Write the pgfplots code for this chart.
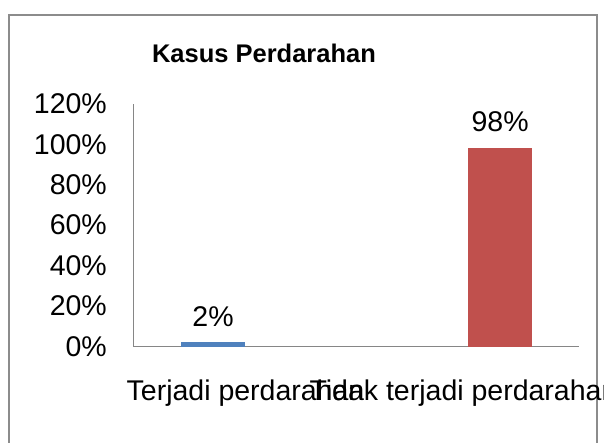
\documentclass[border=0pt]{standalone}
\usepackage{pgfplots}
\pgfplotsset{compat=1.18}
\usepackage{fontspec}
\setmainfont{Liberation Sans}
\definecolor{barblue}{HTML}{4F81BD}
\definecolor{barred}{HTML}{C0504D}
\definecolor{frame}{HTML}{8C8C8C}
\definecolor{axisgray}{HTML}{868686}
\begin{document}
\begin{tikzpicture}
\useasboundingbox (0pt,0pt) rectangle (604pt,442pt);
\begin{scope}
\clip (0pt,0pt) rectangle (604pt,442pt);
\fill[white] (0pt,0pt) rectangle (604pt,442pt);
\draw[frame, line width=1.5pt] (9pt,-10pt) rectangle (597pt,427pt);
\node[anchor=base, font=\fontsize{25.5}{25.5}\selectfont\bfseries] at (264pt,379pt) {Kasus Perdarahan};
\begin{axis}[
  at={(133pt,95.5pt)}, anchor=south west,
  scale only axis, width=446pt, height=242.7pt,
  xmin=-0.279, xmax=1.275, ymin=0, ymax=120,
  axis x line*=bottom, axis y line*=left,
  x axis line style={-, draw=axisgray, line width=0.8pt},
  y axis line style={-, draw=axisgray, line width=0.8pt},
  ytick={0,20,40,60,80,100,120},
  yticklabels={0\%,20\%,40\%,60\%,80\%,100\%,120\%},
  yticklabel style={anchor=east, inner sep=0pt, xshift=-26pt},
  xtick={0.113,0.8725},
  xticklabels={Terjadi perdarahan,Tidak terjadi perdarahan},
  xticklabel style={anchor=base, inner sep=0pt, yshift=-53.5pt},
  major tick length=0pt,
  tick label style={font=\fontsize{28.5}{28.5}\selectfont},
  /pgf/number format/assume math mode=true,
  ybar, bar width=64pt, bar shift=0pt,
  nodes near coords={\pgfmathprintnumber{\pgfplotspointmeta}\%},
  every node near coord/.append style={font=\fontsize{28.5}{28.5}\selectfont, inner sep=0pt, anchor=south, yshift=16pt, text=black},
  clip=false,
]
\addplot[fill=barblue, draw=none] coordinates {(0,2)};
\addplot[fill=barred, draw=none] coordinates {(1,98)};
\end{axis}
\end{scope}
\end{tikzpicture}
\end{document}
